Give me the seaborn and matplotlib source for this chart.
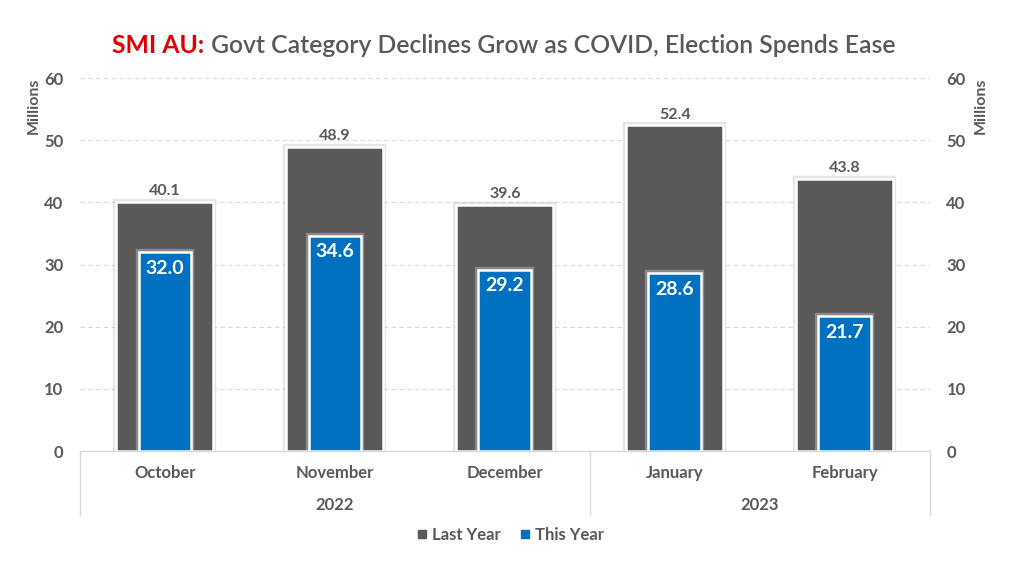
import matplotlib
matplotlib.use('Agg')
import matplotlib.pyplot as plt
import matplotlib.patheffects as pe
import matplotlib.transforms as mtransforms
from matplotlib.lines import Line2D
import seaborn as sns
import pandas as pd

months = ['October', 'November', 'December', 'January', 'February']
years = ['2022', '2022', '2022', '2023', '2023']
last_year = [40.1, 48.9, 39.6, 52.4, 43.8]
this_year = [32.0, 34.6, 29.2, 28.6, 21.7]

gray = '#595959'
blue = '#0070c0'
text_gray = '#595959'

sns.set_style('white')
plt.rcParams['font.family'] = ['Lato', 'DejaVu Sans']

df = pd.DataFrame({'Month': months, 'Year': years,
                   'Last Year': last_year, 'This Year': this_year})

fig = plt.figure(figsize=(10.24, 5.72), dpi=100)
ax = fig.add_axes([0.078, 0.2115, 0.83, 0.652])

glow = [pe.Stroke(linewidth=4.5, foreground='#c8c8c8', alpha=0.45), pe.Normal()]

sns.barplot(data=df, x='Month', y='Last Year', color=gray, width=0.57,
            saturation=1, edgecolor='white', linewidth=1.8, ax=ax, zorder=3)
sns.barplot(data=df, x='Month', y='This Year', color=blue, width=0.31,
            saturation=1, edgecolor='white', linewidth=1.8, ax=ax, zorder=4)
for p in ax.patches:
    p.set_path_effects(glow)

# value labels
for i, v in enumerate(df['Last Year']):
    ax.text(i, v + 0.6, f'{v:.1f}', ha='center', va='bottom', fontsize=11.5,
            fontweight='bold', color=text_gray, zorder=6)
for i, v in enumerate(df['This Year']):
    ax.text(i, v - 1.2, f'{v:.1f}', ha='center', va='top', fontsize=14,
            fontweight='bold', color='white', zorder=6)

ax.set_ylim(0, 60)
ax.set_xlim(-0.5, len(months) - 0.5)
ax.set_yticks(range(0, 61, 10))
ax.yaxis.grid(True, linestyle=(0, (4, 3)), color='#d9d9d9', linewidth=0.8, zorder=0)
ax.set_axisbelow(True)
for s in ax.spines.values():
    s.set_visible(False)
ax.tick_params(axis='y', length=0, pad=12, labelsize=12, labelcolor=text_gray)
for lbl in ax.get_yticklabels():
    lbl.set_fontweight('bold')
ax.set_ylabel('Millions', loc='top', fontsize=11.5, fontweight='bold', color=text_gray, labelpad=2)
ax.set_xlabel('')
ax.set_xticks([])

# right axis
ax2 = ax.twinx()
ax2.set_ylim(ax.get_ylim())
ax2.set_yticks(range(0, 61, 10))
for s in ax2.spines.values():
    s.set_visible(False)
ax2.tick_params(axis='y', length=0, pad=12, labelsize=12, labelcolor=text_gray)
for lbl in ax2.get_yticklabels():
    lbl.set_fontweight('bold')
ax2.set_ylabel('Millions', loc='top', fontsize=11.5, fontweight='bold', color=text_gray, labelpad=6)

# multi-level category axis
trans = mtransforms.blended_transform_factory(ax.transData, ax.transAxes)
line_kw = dict(color='#d9d9d9', linewidth=1, transform=trans, clip_on=False)
ax.add_line(Line2D([-0.5, len(months) - 0.5], [0, 0], **line_kw))
year_groups = list(dict.fromkeys(years))
bounds = [-0.5]
for y in year_groups:
    bounds.append(bounds[-1] + years.count(y))
for b in bounds:
    ax.add_line(Line2D([b, b], [0, -0.172], **line_kw))
for i, m in enumerate(months):
    ax.text(i, -0.058, m, transform=trans, ha='center', va='center',
            fontsize=12, fontweight='bold', color=text_gray)
for j, y in enumerate(year_groups):
    ax.text((bounds[j] + bounds[j + 1]) / 2, -0.145, y, transform=trans,
            ha='center', va='center', fontsize=12, fontweight='bold', color=text_gray)

# legend
handles = [Line2D([], [], marker='s', linestyle='', color=gray, markersize=5.5),
           Line2D([], [], marker='s', linestyle='', color=blue, markersize=5.5)]
leg = fig.legend(handles, ['Last Year', 'This Year'], loc='center', ncol=2,
                 bbox_to_anchor=(0.497, 0.065), frameon=False, handletextpad=0.1,
                 handlelength=1.0, columnspacing=1.0, prop={'size': 12, 'weight': 'bold'})
for t in leg.get_texts():
    t.set_color(text_gray)

# title with red prefix, centred as a whole
title_size = 17.8
t1 = fig.text(0, 0.921, 'SMI AU:', fontsize=title_size, fontweight='bold',
              color='#e00000', va='center', ha='left')
t2 = fig.text(0, 0.921, ' Govt Category Declines Grow as COVID, Election Spends Ease',
              fontsize=title_size, fontweight='semibold', color=text_gray, va='center', ha='left')
fig.canvas.draw()
inv = fig.transFigure.inverted()
w1 = inv.transform((t1.get_window_extent().width, 0))[0] - inv.transform((0, 0))[0]
w2 = inv.transform((t2.get_window_extent().width, 0))[0] - inv.transform((0, 0))[0]
x0 = 0.492 - (w1 + w2) / 2
t1.set_x(x0)
t2.set_x(x0 + w1)

fig.savefig('out.png', dpi=100, facecolor='white')
